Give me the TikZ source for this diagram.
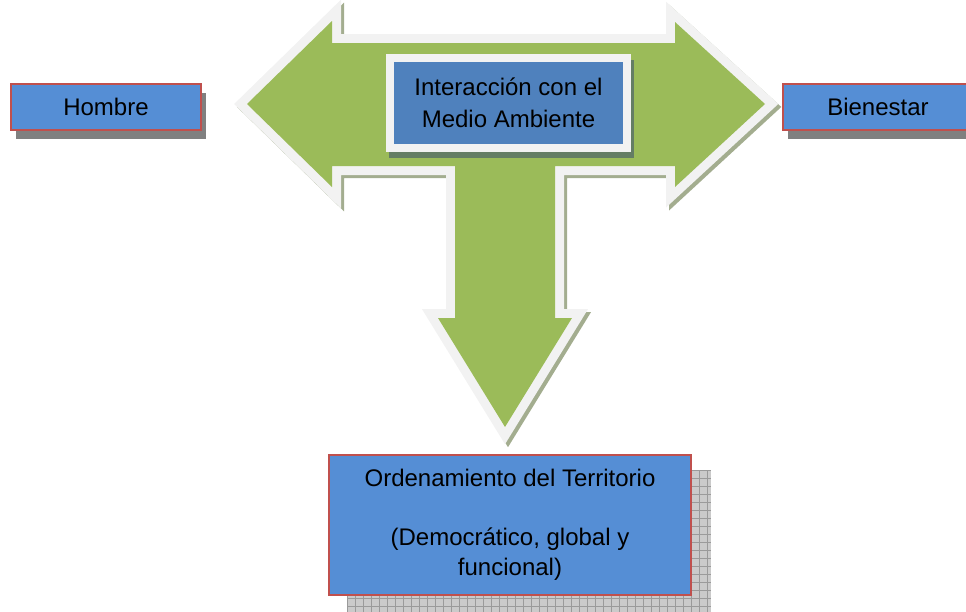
\documentclass[tikz,border=0pt]{standalone}
\usepackage{fontspec}
\setmainfont{Liberation Sans}
\usetikzlibrary{backgrounds,calc}
\definecolor{arrowgreen}{HTML}{9BBB59}
\definecolor{rimgray}{HTML}{F2F2F2}
\definecolor{arrowshadow}{HTML}{A3AD8F}
\definecolor{boxblue}{HTML}{558ED5}
\definecolor{centerblue}{HTML}{4F81BD}
\definecolor{boxred}{HTML}{C0504D}
\definecolor{boxshadow}{HTML}{808080}
\definecolor{centershadow}{HTML}{647D64}
\definecolor{gridfill}{HTML}{CACACA}
\definecolor{gridline}{HTML}{9A9A9A}
\def\arrowpath{(247,104) -- (332,21) -- (332,43) -- (675,43) -- (675,22) -- (765,104) -- (675,187) -- (675,166) -- (555,166) -- (555,318) -- (572,318) -- (505,427) -- (438,318) -- (455,318) -- (455,166) -- (332,166) -- (332,187) -- cycle}
\begin{document}
\begin{tikzpicture}[x=1pt,y=-1pt,
  txt/.style={font=\fontsize{24}{30}\selectfont, text=black, align=center, inner sep=0pt},
  sidebox/.style={txt, draw=boxred, line width=2pt, fill=boxblue,
    minimum width=190pt, minimum height=46pt,
    preaction={fill=boxshadow, transform canvas={xshift=5pt,yshift=-9pt}}},
  centerbox/.style={txt, font=\fontsize{24}{32}\selectfont, draw=rimgray, line width=8pt, fill=centerblue,
    minimum width=237pt, minimum height=90pt,
    preaction={draw=centershadow, fill=centershadow, transform canvas={xshift=3pt,yshift=-6pt}}},
  bottombox/.style={txt, draw=boxred, line width=2pt, fill=boxblue,
    minimum width=362pt, minimum height=140pt}
]
\useasboundingbox (0,0) rectangle (966,611);
\clip (0,0) rectangle (966,611);
% block arrow
\draw[arrowshadow, fill=arrowshadow, line width=18pt, shift={(3,3)}] \arrowpath;
\draw[rimgray, fill=rimgray, line width=18pt] \arrowpath;
\fill[arrowgreen] \arrowpath;
% boxes
\node[centerbox] (interaccion) at (508.5,103) {Interacción con el\\Medio Ambiente};
\node[sidebox] (hombre) at (106,107) {Hombre};
\node[sidebox] (bienestar) at (878,107) {Bienestar};
\node[bottombox] (ordenamiento) at (510,525) {Ordenamiento del Territorio\\[29pt](Democrático, global y\\funcional)};
\begin{scope}[on background layer]
  \coordinate (gA) at ($(ordenamiento.north west)+(19,16)$);
  \coordinate (gB) at ($(ordenamiento.south east)+(19,16)$);
  \fill[gridfill] (gA) rectangle (gB);
  \foreach \k in {0,...,45} {
    \draw[gridline, line width=0.7pt] ($(gA)+(8*\k,0)$) -- ($(gA|-gB)+(8*\k,0)$);
  }
  \foreach \k in {0,...,17} {
    \draw[gridline, line width=0.7pt] ($(gA)+(0,8*\k)$) -- ($(gB|-gA)+(0,8*\k)$);
  }
\end{scope}
\end{tikzpicture}
\end{document}
